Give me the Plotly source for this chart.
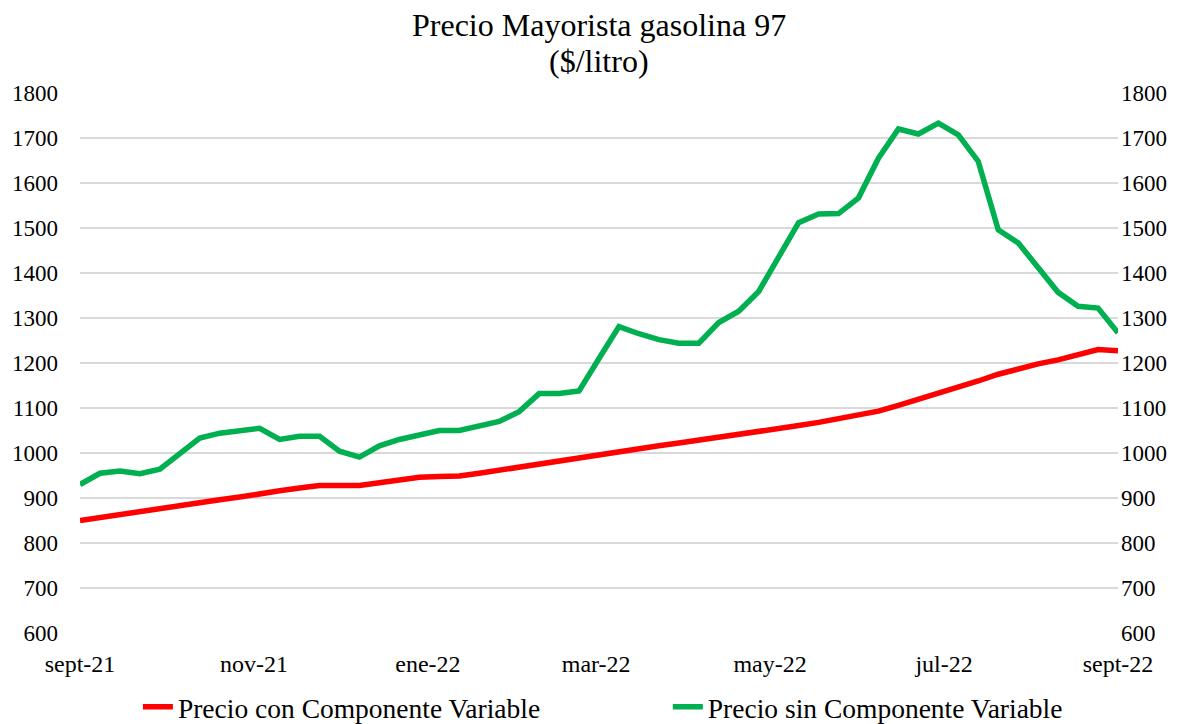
import pandas as pd
import plotly.graph_objects as go

# Weekly dates (categories on a date axis)
fechas = pd.date_range("2021-09-02", periods=53, freq="7D")

precio_con_cv = [850, 857, 863, 868, 876, 883, 889, 896, 902, 910,
                 916, 922, 928, 928, 928, 934, 941, 946, 948, 949,
                 955, 962, 969, 975, 983, 991, 997, 1004, 1010, 1016,
                 1022, 1028, 1035, 1041, 1049, 1055, 1061, 1068, 1076, 1083,
                 1093, 1106, 1119, 1134, 1146, 1160, 1175, 1187, 1198, 1207,
                 1219, 1230, 1227]

precio_sin_cv = [930, 955, 960, 954, 964, 1000, 1033, 1044, 1050, 1055,
                 1030, 1037, 1037, 1004, 991, 1016, 1030, 1041, 1050, 1050,
                 1059, 1070, 1092, 1132, 1132, 1138, 1210, 1281, 1265, 1252,
                 1244, 1244, 1290, 1315, 1359, 1433, 1512, 1531, 1532, 1567,
                 1655, 1720, 1709, 1733, 1707, 1648, 1496, 1467, 1411, 1357,
                 1326, 1322, 1267]

tick_fechas = ["2021-09-02", "2021-11-02", "2022-01-02", "2022-03-02",
               "2022-05-02", "2022-07-02", "2022-09-01"]
tick_textos = ["sept-21", "nov-21", "ene-22", "mar-22", "may-22", "jul-22", "sept-22"]
y_ticks = [600, 700, 800, 900, 1000, 1100, 1200, 1300, 1400, 1500, 1600, 1700, 1800]

titulo_1 = "Precio Mayorista gasolina 97"
titulo_2 = "($/litro)"

FONT = "Liberation Serif, Times New Roman, serif"

fig = go.Figure()
fig.add_trace(go.Scatter(x=fechas, y=precio_con_cv, mode="lines",
                         name="Precio con Componente Variable",
                         line=dict(color="#FF0000", width=5.5), yaxis="y",
                         legend="legend"))
fig.add_trace(go.Scatter(x=fechas, y=precio_sin_cv, mode="lines",
                         name="Precio sin Componente Variable",
                         line=dict(color="#00B050", width=5.5), yaxis="y2",
                         legend="legend2"))

leg_common = dict(orientation="h", y=-0.137, yanchor="middle",
                  font=dict(family=FONT, size=27.5), itemwidth=30,
                  bgcolor="rgba(0,0,0,0)", borderwidth=0)

fig.update_layout(
    width=1194, height=716,
    margin=dict(l=72, r=84, t=85, b=91, autoexpand=False),
    paper_bgcolor="white", plot_bgcolor="white",
    font=dict(family=FONT, color="black", size=23),
    xaxis=dict(type="date", range=[tick_fechas[0], tick_fechas[-1]],
               tickmode="array", tickvals=tick_fechas, ticktext=tick_textos,
               showgrid=False, zeroline=False, showline=False, ticks="",
               ticklabelstandoff=14, tickfont=dict(size=24), automargin=False),
    yaxis=dict(range=[600, 1800], tickmode="array", tickvals=y_ticks,
               showgrid=True, gridcolor="#D9D9D9", gridwidth=1.5,
               zeroline=False, showline=False, ticks="", ticklabelstandoff=21,
               tickfont=dict(size=23), automargin=False),
    yaxis2=dict(range=[600, 1800], tickmode="array", tickvals=y_ticks,
                overlaying="y", side="right", showgrid=False, zeroline=False,
                showline=False, ticks="", ticklabelstandoff=2,
                tickfont=dict(size=23), automargin=False),
    legend=dict(x=0.0558, xanchor="left", **leg_common),
    legend2=dict(x=0.5663, xanchor="left", **leg_common),
    showlegend=True,
    annotations=[
        dict(text=titulo_1, x=0.5, y=1.126, xref="paper", yref="paper",
             xanchor="center", yanchor="middle", showarrow=False,
             font=dict(family=FONT, size=32, color="black")),
        dict(text=titulo_2, x=0.5, y=1.059, xref="paper", yref="paper",
             xanchor="center", yanchor="middle", showarrow=False,
             font=dict(family=FONT, size=32, color="black")),
    ],
)

fig.write_html("out.html")
